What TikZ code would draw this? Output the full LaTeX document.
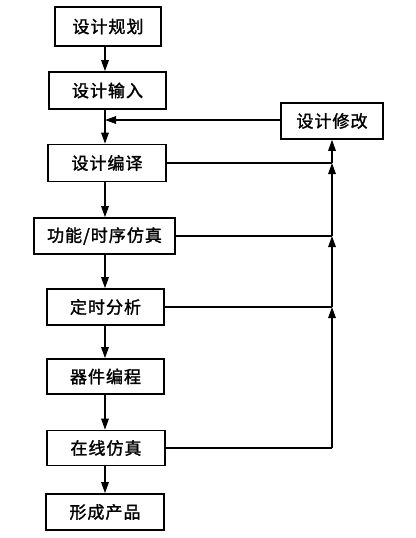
\documentclass[tikz,border=0pt]{standalone}
\usepackage{fontspec}
\newfontfamily\cjk[FakeBold=1.6,LetterSpace=6]{Noto Sans CJK SC}
\usetikzlibrary{arrows.meta}
\tikzset{
  box/.style={draw, line width=1.6pt, inner sep=0pt, font=\cjk\fontsize{17}{19}\selectfont},
  conn/.style={line width=1.4pt},
  arr/.style={conn, -{Triangle[length=11pt,width=7.5pt]}}
}
\begin{document}
\begin{tikzpicture}[x=1pt,y=-1pt]
\useasboundingbox (0,0) rectangle (415,538);
\node[box, minimum width=106pt, minimum height=39pt] (b1) at (108,26.5) {设计规划};
\node[box, minimum width=117pt, minimum height=37pt] (b2) at (107.5,90.5) {设计输入};
\node[box, minimum width=118pt, minimum height=37pt] (b3) at (107,163) {设计编译};
\node[box, minimum width=141pt, minimum height=36pt] (b4) at (104.5,236) {功能/时序仿真};
\node[box, minimum width=117pt, minimum height=36pt] (b5) at (105.5,307) {定时分析};
\node[box, minimum width=117pt, minimum height=35pt] (b6) at (105.5,376.5) {器件编程};
\node[box, minimum width=118pt, minimum height=35pt] (b7) at (106,448) {在线仿真};
\node[box, minimum width=118pt, minimum height=36pt] (b8) at (105,512) {形成产品};
\node[box, minimum width=102pt, minimum height=36pt] (m) at (332,121) {设计修改};
\coordinate (sp) at (105,0);
\coordinate (fb) at (105,120);
% main flow
\draw[arr] (b1.south -| sp) -- (b2.north -| sp);
\draw[conn] (b2.south -| sp) -- (fb);
\draw[arr] (fb) -- (b3.north -| sp);
\draw[arr] (b3.south -| sp) -- (b4.north -| sp);
\draw[arr] (b4.south -| sp) -- (b5.north -| sp);
\draw[arr] (b5.south -| sp) -- (b6.north -| sp);
\draw[arr] (b6.south -| sp) -- (b7.north -| sp);
\draw[arr] (b7.south -| sp) -- (b8.north -| sp);
% feedback
\draw[arr] (m.west |- fb) -- (fb);
\draw[conn] (b3.east) -- (b3.east -| m);
\draw[conn] (b4.east) -- (b4.east -| m);
\draw[conn] (b5.east) -- (b5.east -| m);
\draw[conn] (b7.east) -- (b7.east -| m);
\draw[arr] (b7.east -| m) -- (b5.east -| m);
\draw[arr] (b5.east -| m) -- (b4.east -| m);
\draw[arr] (b4.east -| m) -- (b3.east -| m);
\draw[arr] (b3.east -| m) -- (m.south);
\end{tikzpicture}
\end{document}
